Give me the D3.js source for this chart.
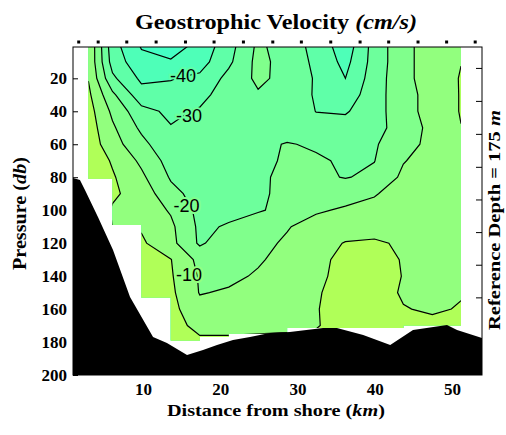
<!DOCTYPE html>
<meta charset="utf-8">
<style>
body { margin: 0; background: #fff; }
text { font-family: "Liberation Serif", "Times New Roman", serif; }
</style>
<body>
<svg id="chart" width="506" height="435"></svg>
<script src="https://d3js.org/d3.v7.min.js"></script>
<script>

// CTD stations along the section (km from shore)
var stations = [1.68, 4.2, 7.9, 11.7, 15.5, 19.2, 23.0, 26.8, 30.5, 34.3, 38.1, 41.8, 45.6, 49.3, 53.0];

// geostrophic velocity profiles sit midway between station pairs
var profileKm = [2.94, 6.05, 9.8, 13.6, 17.35, 21.1, 24.9, 28.65, 32.4, 36.2, 39.95, 43.7, 47.45, 51.15];
var pressures = d3.range(0, 201, 10);

// velocity (cm/s), one row per pressure level, one column per profile
var velocity = [
  [ -1,  -36, -51, -55,  -47,  -34, -18,  -25, -33,  -46, -26,   -13, -5,  -0.5],
  [ -1.5,-34, -47, -49,  -44,  -32, -17,  -24, -32,  -43, -26,   -13, -5,  -0.2],
  [ -0.5,-28, -42, -40.5,-38,  -27, -18,  -23, -31,  -40, -25,   -13, -5,   0.5],
  [  2,  -18, -36, -37,  -33,  -25, -21,  -24, -31,  -36, -24,   -14, -6,   0.5],
  [  4,  -12, -27, -32,  -29,  -24, -22,  -23, -30.2,-31, -24,   -14, -6,   0.5],
  [  5,  -8.5,-22, -29.5,-27,  -25, -23,  -24, -26,  -26, -23,   -16, -7,  -0.2],
  [  6,  -6,  -17, -28,  -26,  -24, -22,  -19.5,-21, -23, -21,   -14, -7,  -2],
  [  7,  -1,  -12, -24,  -25,  -24, -22,  -19, -19,  -21, -20.2, -10.5,-6, -4],
  [  8,   1,  -8,  -21,  -25,  -24, -21.5,-18, -18,  -20.5,-18,  -8,  -6,  -5],
  [  9,   1.5,-4,  -17,  -24,  -24, -22,  -17, -14,  -13, -10.5, -7,  -5,  -5],
  [  9,  -1,  -4,  -11,  -23,  -23, -21,  -17, -11,  -9,  -8,    -6,  -4.5,-4],
  [  9,   0,  -1,  -8,   -22,  -19, -14,  -10.5,-7,  -5,  -3,    -5,  -4,  -3],
  [  9,   1,   1.5,-7,   -21.5,-14, -12,  -9,  -4,    0.5, 1,    -1,  -3,  -2],
  [  9,   2,   3,   0.3, -13,  -13, -11,  -7,  -2,    2,   3,    -0.5,-2,  -2],
  [  9,   2,   5,   1,   -11,  -12, -9,   -6,  -2,    3,   4,    -0.3,-1.5,-1],
  [  9,   2,   7,   2,   -10.5,-9,  -7,   -5,  -1,    4,   4,    -1,  -2,  -0.5],
  [  9,   2,   8,   3,   -7,   -7,  -6,   -4,  -0.5,  4,   4,     0.4,-1,   0.5],
  [  9,   2,   9,   4,   -3,   -3,  -2,   -1.5,-0.5,  3,   4,     3,   2,   2],
  [  9,   2,   9,   5,    2,    2,   2,    2,   2,    3,   4,     3,   2,   2],
  [  9,   2,   9,   5,    3,    3,   3,    3,   3,    3,   4,     3,   2,   2],
  [  9,   2,   9,   5,    3,    3,   3,    3,   3,    3,   4,     3,   2,   2]
];

// deepest pressure with data between neighbouring profiles (db)
var dataBottom = [81, 109, 153, 179, 177, 175, 175, 171.5, 171.5, 171.5, 171.5, 170, 170];

// bottom topography (km, db)
var bottomKm = [0.94, 1.84, 2.49, 4.17, 6.12, 8.32, 11.3, 13.1, 15.7, 17.77, 19.58, 21.65, 23.85, 26.4, 29.0, 33.3, 35.1, 38.5, 42.0, 44.95, 49.35, 50.65, 53.9];
var bottomP  = [80.5, 81.7, 87.8, 104.2, 124.2, 152.7, 177, 180.6, 187.9, 184.9, 181.8, 178.8, 177, 174.5, 173.9, 171.5, 171.5, 175.8, 181.8, 172.7, 169.7, 172.7, 177.6];

var levels = [-50, -40, -30, -20, -10, 0];
var bandColors = ["#44ffc4", "#4effb8", "#5fffa8", "#6dff9c", "#80ff8c", "#92ff7e", "#b0ff58"];
var labelValues = [-40, -30, -20, -10];
var labelKm = [15.18, 15.95, 15.62, 15.95];
var labelP = [18, 42.3, 97.3, 139];

var xTicks = [10, 20, 30, 40, 50];
var yTicks = d3.range(20, 201, 20);
var rightTicks = [13.7, 33.7, 53.7, 73.7, 93.5, 113.3, 133.1, 152.9];

var svg = d3.select("#chart");

var x = d3.scaleLinear().domain([0.94, 53.88]).range([73, 482]);
var y = d3.scaleLinear().domain([1, 200]).range([47, 375]);

// clip to the plot frame
svg.append("clipPath").attr("id", "frame")
  .append("rect")
    .attr("x", x.range()[0]).attr("y", y.range()[0])
    .attr("width", x.range()[1] - x.range()[0])
    .attr("height", y.range()[1] - y.range()[0]);

// clip to where velocities exist
var dataClip = svg.append("clipPath").attr("id", "data");
dataBottom.forEach(function(b, i) {
  dataClip.append("rect")
    .attr("x", x(profileKm[i]))
    .attr("y", y(1))
    .attr("width", x(profileKm[i + 1]) - x(profileKm[i]))
    .attr("height", y(b) - y(1));
});

// pad the grid by one cell on every side so contour edges fall outside the clip
var nx = profileKm.length + 2, ny = pressures.length + 2;
var gridKm = [profileKm[0] - 4].concat(profileKm, [profileKm[profileKm.length - 1] + 4]);
var gridP = [-20].concat(pressures, [220]);
var values = [];
for (var j = 0; j < ny; j++) {
  var row = velocity[Math.min(Math.max(j - 1, 0), pressures.length - 1)];
  for (var i = 0; i < nx; i++) {
    values.push(row[Math.min(Math.max(i - 1, 0), row.length - 1)]);
  }
}
var ix = d3.scaleLinear().domain(d3.range(nx)).range(gridKm);
var iy = d3.scaleLinear().domain(d3.range(ny)).range(gridP);

var contours = d3.contours().size([nx, ny]).thresholds(levels)(values);

var path = d3.geoPath(d3.geoTransform({
  point: function(px, py) {
    this.stream.point(x(ix(px - 0.5)), y(iy(py - 0.5)));
  }
}));

var field = svg.append("g").attr("clip-path", "url(#data)");

field.append("rect")
  .attr("x", 0).attr("y", 0).attr("width", 506).attr("height", 435)
  .attr("fill", bandColors[0]);

field.selectAll("path.band")
  .data(contours)
  .enter().append("path")
    .attr("class", "band")
    .attr("d", path)
    .attr("fill", function(d, i) { return bandColors[i + 1]; });

field.selectAll("path.iso")
  .data(contours)
  .enter().append("path")
    .attr("class", "iso")
    .attr("d", path)
    .attr("fill", "none")
    .attr("stroke", "#000")
    .attr("stroke-width", 1.2);

// contour labels
field.selectAll("text.clabel")
  .data(labelValues)
  .enter().append("text")
    .attr("class", "clabel")
    .attr("x", function(d, i) { return x(labelKm[i]); })
    .attr("y", function(d, i) { return y(labelP[i]); })
    .attr("dy", "0.36em")
    .attr("text-anchor", "middle")
    .style("font-family", "'Liberation Sans', Arial, sans-serif")
    .style("font-size", "18px")
    .attr("fill", "#000")
    .attr("stroke", function(d) { return bandColors[levels.indexOf(d) + 1]; })
    .attr("stroke-width", 4)
    .attr("paint-order", "stroke")
    .text(function(d) { return d; });

// bottom topography
var topo = d3.area()
  .x(function(d, i) { return x(bottomKm[i]); })
  .y0(y(200) + 2)
  .y1(function(d, i) { return y(bottomP[i]); });

svg.append("path")
  .attr("clip-path", "url(#frame)")
  .attr("d", topo(bottomKm))
  .attr("fill", "#000");

// frame
svg.append("rect")
  .attr("x", x.range()[0]).attr("y", y.range()[0])
  .attr("width", x.range()[1] - x.range()[0])
  .attr("height", y.range()[1] - y.range()[0])
  .attr("fill", "none")
  .attr("stroke", "#000")
  .attr("stroke-width", 1);

// axes
var yAxis = svg.append("g")
  .attr("transform", "translate(" + x.range()[0] + ",0)")
  .call(d3.axisLeft(y).tickValues(yTicks).tickSize(-5).tickPadding(6));

var rAxis = svg.append("g")
  .attr("transform", "translate(" + x.range()[1] + ",0)")
  .call(d3.axisRight(y).tickValues(rightTicks).tickSize(-6).tickFormat(""));

var xAxis = svg.append("g")
  .attr("transform", "translate(0," + y.range()[1] + ")")
  .call(d3.axisBottom(x).tickValues(xTicks).tickSize(0).tickPadding(8));

[yAxis, rAxis, xAxis].forEach(function(g) {
  g.select(".domain").remove();
  g.selectAll("line").attr("stroke", "#000");
  g.selectAll("text")
    .style("font-family", "'Liberation Serif', 'Times New Roman', serif")
    .style("font-size", "17px")
    .style("font-weight", "bold")
    .attr("fill", "#000");
});

// station markers
svg.selectAll("rect.station")
  .data(stations)
  .enter().append("rect")
    .attr("class", "station")
    .attr("x", function(d) { return x(d) - 1.5; })
    .attr("y", 40.5)
    .attr("width", 3)
    .attr("height", 3)
    .attr("fill", "#000");

// titles
var title = svg.append("text")
  .attr("x", 276).attr("y", 29)
  .attr("text-anchor", "middle")
  .style("font-size", "21px").style("font-weight", "bold")
  .attr("textLength", 282).attr("lengthAdjust", "spacingAndGlyphs");
title.append("tspan").text("Geostrophic Velocity ");
title.append("tspan").style("font-style", "italic").text("(cm/s)");

var xl = svg.append("text")
  .attr("x", 276).attr("y", 416)
  .attr("text-anchor", "middle")
  .style("font-size", "17px").style("font-weight", "bold")
  .attr("textLength", 218).attr("lengthAdjust", "spacingAndGlyphs");
xl.append("tspan").text("Distance from shore (");
xl.append("tspan").style("font-style", "italic").text("km");
xl.append("tspan").text(")");

var yl = svg.append("text")
  .attr("transform", "translate(26,213.5) rotate(-90)")
  .attr("text-anchor", "middle")
  .style("font-size", "18px").style("font-weight", "bold")
  .attr("textLength", 113).attr("lengthAdjust", "spacingAndGlyphs");
yl.append("tspan").text("Pressure (");
yl.append("tspan").style("font-style", "italic").text("db");
yl.append("tspan").text(")");

var rl = svg.append("text")
  .attr("transform", "translate(500,220) rotate(-90)")
  .attr("text-anchor", "middle")
  .style("font-size", "16px").style("font-weight", "bold")
  .attr("textLength", 220).attr("lengthAdjust", "spacingAndGlyphs");
rl.append("tspan").text("Reference Depth = 175 ");
rl.append("tspan").style("font-style", "italic").text("m");

</script>
</body>
